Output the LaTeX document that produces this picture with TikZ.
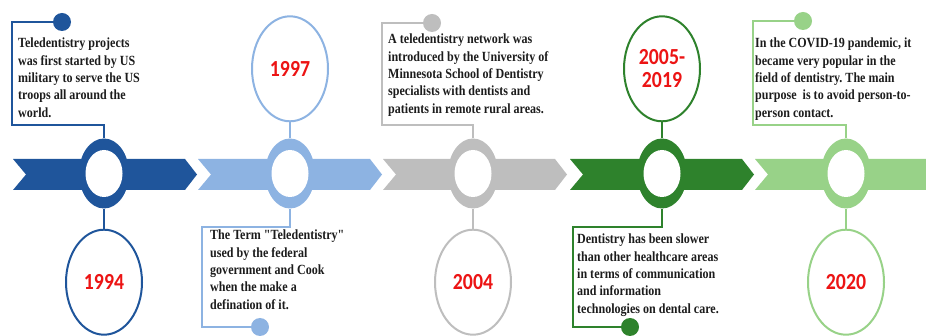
\documentclass[tikz,border=0pt]{standalone}
\usepackage{fontspec}
\usepackage{tikz}
\usetikzlibrary{positioning}
\usetikzlibrary{shapes.geometric}

\newfontfamily\notefont[FakeStretch=0.86]{Liberation Serif}
\newfontfamily\yearfont[FakeStretch=0.86]{Carlito}
\frenchspacing

\definecolor{deepblue}{RGB}{31,85,155}
\definecolor{skyblue}{RGB}{141,179,226}
\definecolor{midgray}{RGB}{190,190,190}
\definecolor{leafgreen}{RGB}{46,130,44}
\definecolor{palegreen}{RGB}{152,210,136}
\definecolor{yearred}{RGB}{236,20,20}
\definecolor{notegray}{RGB}{28,28,28}

\tikzset{
  ring/.style={ellipse, fill=#1, minimum width=50pt, minimum height=70pt, inner sep=0pt},
  hole/.style={ellipse, fill=white, minimum width=37pt, minimum height=47pt, inner sep=0pt},
  yearoval/.style={ellipse, draw=#1, line width=2pt, fill=white, minimum width=76pt, minimum height=105pt,
    inner sep=0pt, align=center, text=yearred, font=\yearfont\bfseries\fontsize{23}{23}\selectfont},
  dot/.style={circle, fill=#1, minimum size=18pt, inner sep=0pt},
  link/.style={draw=#1, line width=1.7pt},
  notetext/.style={anchor=north west, align=left, inner sep=0pt, text=notegray,
    font=\notefont\bfseries\fontsize{14}{17.3}\selectfont}
}

\begin{document}
\begin{tikzpicture}[x=1pt,y=-1pt]
  \useasboundingbox (0,0) rectangle (926,336);
  \clip (0,0) rectangle (926,336);

  % chevron bands
  \fill[deepblue] (13,159) -- ++(172,0) -- ++(12,15.5) -- ++(-12,15.5) -- ++(-172,0) -- ++(13,-15.5) -- cycle;
  \fill[skyblue] (198,159) -- ++(172,0) -- ++(12,15.5) -- ++(-12,15.5) -- ++(-172,0) -- ++(13,-15.5) -- cycle;
  \fill[midgray] (383,159) -- ++(172,0) -- ++(12,15.5) -- ++(-12,15.5) -- ++(-172,0) -- ++(13,-15.5) -- cycle;
  \fill[leafgreen] (570,159) -- ++(172,0) -- ++(12,15.5) -- ++(-12,15.5) -- ++(-172,0) -- ++(13,-15.5) -- cycle;
  \fill[palegreen] (755,159) -- ++(172,0) -- ++(12,15.5) -- ++(-12,15.5) -- ++(-172,0) -- ++(13,-15.5) -- cycle;

  % rings on the bands
  \node[ring=deepblue] (r1) at (104,173.5) {};
  \node[hole] (h1) at (r1) {};
  \node[ring=skyblue] (r2) at (290,173.5) {};
  \node[hole] (h2) at (r2) {};
  \node[ring=midgray] (r3) at (473,173.5) {};
  \node[hole] (h3) at (r3) {};
  \node[ring=leafgreen] (r4) at (662,173.5) {};
  \node[hole] (h4) at (r4) {};
  \node[ring=palegreen] (r5) at (846,173.5) {};
  \node[hole] (h5) at (r5) {};

  % years
  \node[yearoval=deepblue, below=20pt of r1] (y1) {1994};
  \node[yearoval=skyblue, above=16pt of r2] (y2) {1997};
  \node[yearoval=midgray, below=20pt of r3] (y3) {2004};
  \node[yearoval=leafgreen, above=16pt of r4] (y4) {2005-\\2019};
  \node[yearoval=palegreen, below=20pt of r5] (y5) {2020};
  \draw[link=deepblue] (r1) -- (y1);
  \draw[link=skyblue] (r2) -- (y2);
  \draw[link=midgray] (r3) -- (y3);
  \draw[link=leafgreen] (r4) -- (y4);
  \draw[link=palegreen] (r5) -- (y5);

  % note frames
  \coordinate (k1) at (12,125);
  \coordinate (k2) at (202,227);
  \coordinate (k3) at (382,125);
  \coordinate (k4) at (573,227);
  \coordinate (k5) at (753,125);
  \node[dot=deepblue] (d1) at (62,22) {};
  \node[dot=skyblue] (d2) at (260,327) {};
  \node[dot=midgray] (d3) at (432,23) {};
  \node[dot=leafgreen] (d4) at (630,327) {};
  \node[dot=palegreen] (d5) at (803,21) {};
  \draw[link=deepblue] (r1.north) |- (k1) |- (d1);
  \draw[link=skyblue] (r2.south) |- (k2) |- (d2);
  \draw[link=midgray] (r3.north) |- (k3) |- (d3);
  \draw[link=leafgreen] (r4.south) |- (k4) |- (d4);
  \draw[link=palegreen] (r5.north) |- (k5) |- (d5);

  % notes
  \node[notetext] (n1) at (18,38) {Teledentistry projects\\was first started by US\\military to serve the US\\troops all around the\\world.};
  \node[notetext] (n2) at (210,230) {The Term "Teledentistry"\\used by the federal\\government and Cook\\when the make a\\defination of it.};
  \node[notetext] (n3) at (388,34) {A teledentistry network was\\introduced by the University of\\Minnesota School of Dentistry\\specialists with dentists and\\patients in remote rural areas.};
  \node[notetext] (n4) at (577,234) {Dentistry has been slower\\than other healthcare areas\\in terms of communication\\and information\\technologies on dental care.};
  \node[notetext] (n5) at (755,38) {In the COVID-19 pandemic, it\\became very popular in the\\field of dentistry. The main\\purpose~ is to avoid person-to-\\person contact.};
\end{tikzpicture}
\end{document}
